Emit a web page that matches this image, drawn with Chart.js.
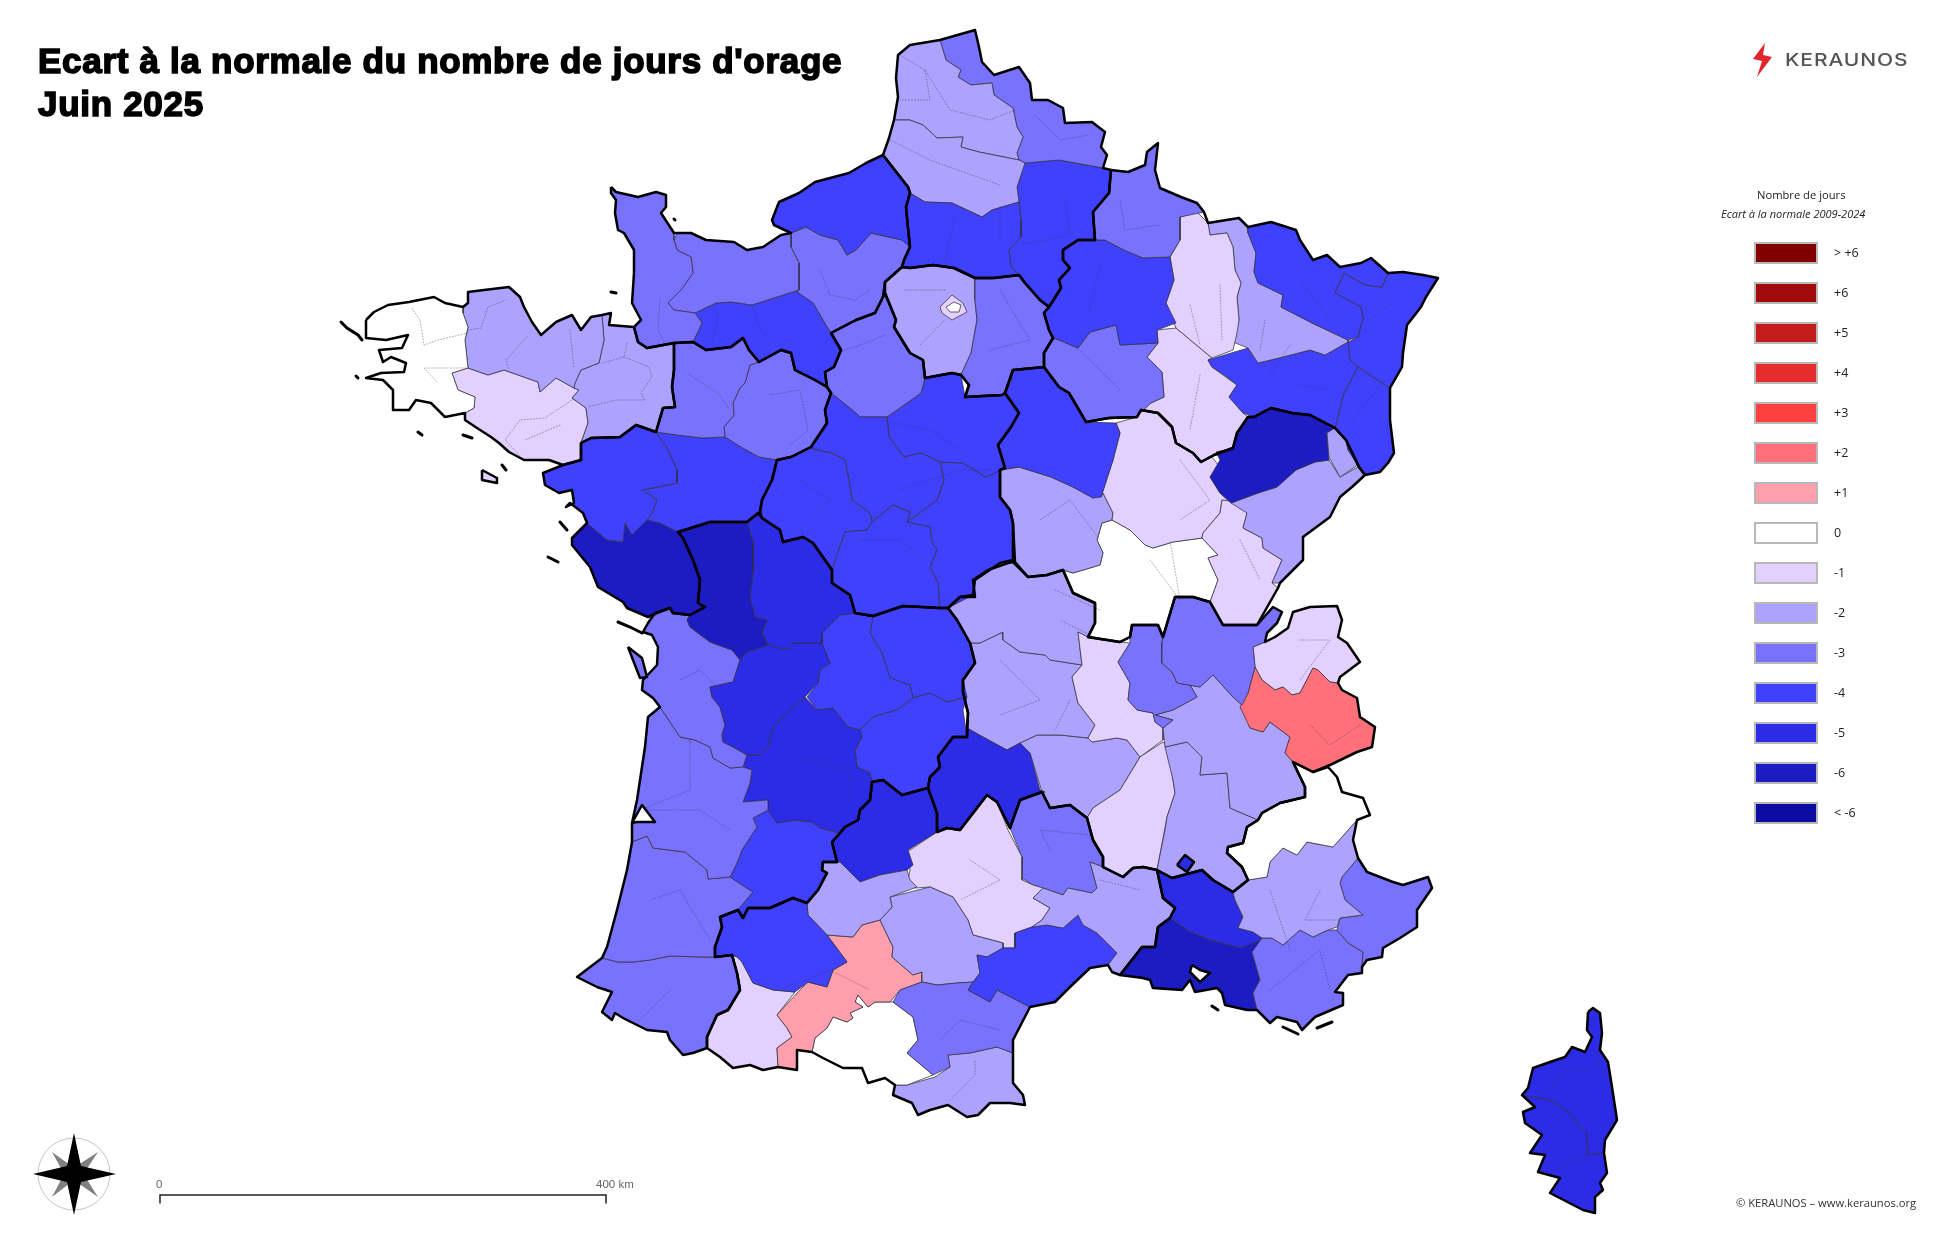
<!DOCTYPE html><html lang="fr">
<head>
<meta charset="UTF-8" />
<title>Ecart à la normale du nombre de jours d'orage</title>
<script src="https://cdn.jsdelivr.net/npm/chart.js"></script>
<style>
  html, body { margin: 0; padding: 0; background: #fff; }
  #page { position: relative; width: 1954px; height: 1249px; overflow: hidden; font-family: 'Open Sans', sans-serif; }
  canvas { position: absolute; left: 0; top: 0; }
  #page div { position: absolute; white-space: nowrap; }
  .title { left: 38px; font: bold 35px 'Liberation Sans', sans-serif; color: #000; -webkit-text-stroke: 1.6px #000; letter-spacing: 0.7px; }
  .swatch { left: 1754px; width: 60px; height: 18px; border: 2px solid #b8b8b8; }
  .leglab { left: 1834px; font-size: 12.5px; color: #222; }
  .grey { font: 11.5px 'Liberation Sans', sans-serif; color: #666; }
</style>
</head>
<body>
<div id="page">
  <canvas id="map" width="1954" height="1249"></canvas>
  <div class="title" style="top:41px">Ecart à la normale du nombre de jours d'orage</div>
  <div class="title" style="top:84px">Juin 2025</div>
  <div style="left:1785px;top:49px;font:500 17.5px Inter,sans-serif;color:#555;letter-spacing:0.75px;transform:scaleX(1.2);transform-origin:left">KERAUNOS</div>
  <div style="left:1757px;top:187px;font-size:11.2px;color:#222">Nombre de jours</div>
  <div style="left:1721px;top:206px;font-size:11px;font-style:italic;color:#222">Ecart à la normale 2009-2024</div>
  <div class="grey" style="left:156px;top:1178px">0</div>
  <div class="grey" style="left:596px;top:1178px">400 km</div>
  <div style="left:1736px;top:1195px;font-size:11.2px;color:#333">© KERAUNOS – www.keraunos.org</div>
</div>
<script>
// legend classes
const legendLabels = ['> +6','+6','+5','+4','+3','+2','+1','0','-1','-2','-3','-4','-5','-6','< -6'];
const legendColors = ['#800000','#a00c0c','#c21c1c','#e62c2c','#ff4040','#ff707a','#ff9eac','#ffffff','#e2d0ff','#aea2ff','#7872ff','#4040ff','#2c2ce6','#1c1cc2','#0c0ca0'];

// department outlines, x y x y ... in picture units
const finistere = [366,320,374,312,388,305,409,302,434,297,445,303,463,307,463,313,468,327,465,340,468,368,452,373,458,390,475,397,474,408,465,413,445,417,431,403,416,400,409,410,393,410,393,390,383,380,366,378,381,373,404,372,406,363,391,357,383,362,379,350,402,348,408,335,386,340,366,338];
const cotesArmor = [463,307,468,303,468,292,484,290,509,287,520,297,524,307,532,322,541,335,556,322,572,315,581,330,591,317,602,315,604,340,599,363,581,370,575,383,574,388,556,378,540,392,538,382,504,370,488,375,468,368,465,340,468,327,463,313];
const illeVilaine = [602,315,611,313,609,325,634,327,638,342,647,348,674,343,674,370,672,387,675,407,663,408,656,432,636,425,620,437,591,438,581,443,588,423,586,408,572,398,579,390,574,388,575,383,581,370,599,363,604,340];
const morbihan = [452,373,468,368,488,375,504,370,538,382,540,392,556,378,574,388,579,390,572,398,586,408,588,423,581,443,581,460,563,465,549,460,524,460,509,452,499,443,491,437,477,428,465,420,465,413,474,408,475,397,458,390];
const loireAtl = [581,443,591,438,620,437,636,425,656,432,668,450,677,470,677,483,643,490,657,500,652,513,647,520,632,535,625,523,623,542,607,540,587,523,583,513,570,503,566,507,574,503,572,490,559,493,545,485,543,473,563,465,581,460];
const manche = [611,187,616,192,638,197,656,192,666,195,666,207,661,213,674,233,674,240,677,250,691,257,693,273,681,290,668,303,674,310,695,313,702,323,693,342,674,343,647,348,638,342,634,327,641,320,632,303,634,273,634,250,624,233,618,230,615,213,616,200,611,193];
const calvados = [674,240,677,233,691,233,706,240,734,242,747,250,763,247,781,235,791,233,791,247,799,263,799,290,752,305,731,302,716,303,695,313,674,310,668,303,681,290,693,273,691,257,677,250];
const orne = [695,313,716,303,731,302,752,305,799,290,797,292,813,303,827,327,831,333,841,350,834,367,825,372,827,387,815,380,795,370,791,353,781,350,759,362,749,350,743,338,731,347,706,350,693,342,702,323];
const mayenne = [674,343,693,342,706,350,731,347,743,338,749,350,759,362,750,365,745,383,740,388,733,403,734,415,724,427,725,437,702,438,677,435,656,432,663,408,675,407,672,387,674,370];
const sarthe = [759,362,781,350,791,353,795,370,815,380,827,387,831,393,825,410,827,423,811,447,791,457,777,460,759,457,741,447,725,437,724,427,734,415,733,403,740,388,745,383,750,365];
const maineLoire = [656,432,677,435,702,438,725,437,741,447,759,457,777,460,772,480,762,500,760,512,747,522,710,522,678,532,660,523,647,520,652,513,657,500,643,490,677,483,677,470,668,450];
const vendee = [587,523,572,538,572,545,590,567,598,587,623,602,627,608,648,617,657,613,670,608,673,613,690,615,705,607,698,603,700,580,693,560,683,538,678,532,660,523,647,520,632,535,625,523,623,542,607,540];
const deuxSevres = [678,532,710,522,747,522,748,525,753,543,753,573,750,597,755,617,767,620,762,633,768,645,747,652,740,660,732,650,710,642,690,627,687,620,690,615,705,607,698,603,700,580,693,560,683,538];
const vienne = [747,522,758,513,762,518,780,530,783,542,803,537,813,543,832,570,832,583,850,595,855,613,840,615,822,633,822,643,793,643,787,650,768,645,762,633,767,620,755,617,750,597,753,573,753,543,748,525];
const charente = [768,645,787,650,793,643,822,643,830,663,820,670,818,683,805,697,793,707,773,727,768,747,758,755,747,755,733,747,723,742,722,735,725,725,720,707,712,697,710,687,733,682,740,660,747,652];
const charenteMar = [740,660,733,682,710,687,712,697,720,707,725,725,722,735,723,742,733,747,747,755,743,767,730,768,713,758,710,747,695,740,680,737,660,707,653,698,642,690,643,680,657,665,658,647,652,635,643,632,648,623,655,613,670,608,673,613,690,615,687,620,690,627,710,642,732,650];
const gironde = [660,707,648,717,645,747,637,800,632,823,632,842,647,836,653,848,685,852,707,870,708,879,730,877,737,863,742,850,753,833,757,827,753,818,768,810,768,800,743,802,750,783,752,770,743,767,730,768,713,758,710,747,695,740,680,737];
const dordogne = [747,755,758,755,768,747,773,727,793,707,805,697,817,710,833,708,848,727,860,730,862,737,855,750,857,767,870,773,872,782,870,800,860,810,858,820,845,827,840,833,820,828,812,822,795,820,777,823,768,810,768,800,743,802,750,783,752,770,743,767];
const lotGaronne = [757,827,753,818,768,810,777,823,795,820,812,822,820,828,840,833,832,842,837,862,823,862,822,870,827,873,818,890,807,903,793,898,770,908,748,908,743,918,738,910,753,892,730,877,737,863,742,850,753,833];
const landes = [632,842,647,836,653,848,685,852,707,870,708,879,730,877,753,892,738,910,720,917,722,927,715,947,715,957,700,957,670,956,650,960,633,962,618,962,602,958,607,947,617,910,627,870];
const pyrAtl = [602,958,618,962,633,962,650,960,670,956,700,957,715,957,732,955,737,973,740,990,728,1010,717,1015,707,1037,707,1048,693,1053,683,1055,670,1040,667,1032,647,1030,623,1018,615,1013,612,1020,602,1012,612,992,597,987,577,977];
const gers = [738,910,720,917,722,927,715,947,715,957,732,955,737,957,742,962,753,983,773,990,795,992,808,982,827,987,833,970,847,962,827,935,808,915,807,903,793,898,770,908,748,908,743,918];
const tarnGaronne = [807,903,818,890,827,873,822,870,823,862,840,862,860,882,880,875,907,870,910,880,917,887,890,897,892,907,880,920,862,925,853,937,827,935,808,915];
const lot = [840,833,845,827,858,820,860,810,870,800,872,782,883,780,902,795,928,788,937,813,937,832,908,850,913,865,907,870,880,875,860,882,840,862,837,862,832,842];
const correze = [873,717,897,710,913,698,930,693,947,702,967,697,963,710,967,737,953,737,938,757,940,767,930,777,928,788,902,795,883,780,872,782,870,773,857,767,855,750,862,737,860,730];
const hauteVienne = [855,613,873,617,870,633,882,653,890,678,910,685,913,698,897,710,873,717,860,730,848,727,833,708,817,710,807,697,818,683,820,670,830,663,822,643,822,633,840,615];
const creuse = [873,617,903,606,940,608,948,608,957,620,970,643,975,663,963,680,967,697,947,702,930,693,913,698,910,685,890,678,882,653,870,633];
const indre = [832,570,845,532,867,530,872,522,893,505,910,512,907,522,930,527,932,542,937,550,930,567,938,583,940,608,903,606,873,616,855,613,850,595,832,583];
const indreLoire = [777,460,791,457,809,448,831,453,845,460,849,480,852,500,870,513,872,522,867,530,845,532,832,570,813,543,803,537,783,542,780,530,762,518,760,512,762,500,772,480];
const loirCher = [831,393,856,413,860,417,887,417,889,437,904,457,921,453,940,462,944,480,937,500,907,522,910,512,893,505,872,522,870,513,852,500,849,480,845,460,831,453,809,448,811,447,827,423,825,410];
const eureLoir = [831,333,856,320,875,313,883,297,885,293,896,320,894,327,910,353,923,360,925,378,921,393,887,417,860,417,856,413,831,393,827,387,825,372,834,367,841,350];
const loiret = [925,378,952,373,961,375,965,397,1002,395,1005,393,1019,413,1011,427,998,445,1005,468,986,477,963,463,940,462,921,453,904,457,889,437,887,417,921,393];
const seineMar = [772,220,779,202,799,193,815,182,849,173,866,163,883,155,908,187,910,193,906,207,908,228,910,247,902,240,871,233,856,250,847,255,838,240,820,235,806,227,791,233,774,225];
const eure = [791,233,806,227,820,235,838,240,847,255,856,250,871,233,902,240,910,247,904,260,902,267,885,282,883,297,875,313,856,320,831,333,827,327,813,303,797,292,799,290,799,263,791,247];
const oise = [910,193,925,202,952,203,982,217,992,210,1019,202,1021,220,1021,237,1009,250,1011,267,1019,275,994,278,975,278,954,268,933,265,910,268,902,267,904,260,910,247,908,228,906,207];
const somme = [883,155,889,138,894,120,910,120,923,125,937,138,963,137,961,147,979,152,994,155,1019,160,1025,163,1017,187,1019,202,992,210,982,217,952,203,925,202,910,193,908,187];
const pasCalais = [894,120,898,97,896,78,898,55,910,45,940,40,946,60,961,70,958,77,971,85,992,83,994,95,1013,108,1017,127,1023,137,1017,153,1019,160,994,155,979,152,961,147,963,137,937,138,923,125,910,120];
const nord = [940,40,975,30,979,47,982,62,994,75,1019,67,1030,83,1032,100,1048,100,1063,108,1065,123,1092,122,1105,132,1101,147,1107,155,1103,168,1059,160,1025,163,1019,160,1017,153,1023,137,1017,127,1013,108,994,95,992,83,971,85,958,77,961,70,946,60];
const aisne = [1025,163,1059,160,1103,168,1111,170,1109,193,1093,212,1095,240,1078,240,1063,250,1063,260,1070,268,1059,280,1061,288,1049,307,1040,300,1025,283,1019,275,1011,267,1009,250,1021,237,1021,220,1019,202,1017,187];
const ardennes = [1111,170,1128,172,1145,165,1147,152,1158,143,1155,170,1160,188,1181,197,1197,203,1204,212,1180,217,1180,240,1170,257,1143,258,1124,250,1105,240,1095,240,1093,212,1109,193];
const marne = [1095,240,1105,240,1124,250,1143,258,1170,257,1174,280,1166,303,1176,323,1157,330,1158,343,1120,345,1116,325,1090,332,1078,348,1059,340,1053,338,1049,330,1044,313,1049,307,1061,288,1059,280,1070,268,1063,260,1063,250,1078,240];
const aube = [1059,340,1078,348,1090,332,1116,325,1120,345,1158,343,1147,357,1162,372,1164,397,1151,403,1136,417,1109,418,1086,422,1082,415,1069,393,1059,387,1044,367,1044,353,1053,338];
const seineMarne = [975,278,994,278,1019,275,1025,283,1040,300,1049,307,1044,313,1049,330,1053,338,1044,353,1044,367,1013,370,1011,383,1005,393,1002,395,965,397,969,385,961,375,971,353,977,320,975,300];
const ileFrance = [885,282,902,267,910,268,933,265,954,268,975,278,975,300,977,320,971,353,961,375,952,373,925,378,923,360,910,353,894,327,896,320,885,293];
const petiteCouronne = [940,307,952,295,963,303,967,312,952,320,942,313];
const paris = [946,307,954,302,961,305,959,312,950,312];
const meuse = [1180,217,1197,212,1208,223,1210,235,1227,233,1233,247,1235,270,1241,283,1237,297,1239,320,1237,333,1233,350,1212,358,1176,328,1166,303,1174,280,1170,257,1180,240];
const moselle = [1248,227,1271,222,1296,230,1300,240,1313,260,1327,255,1340,267,1361,263,1371,258,1388,273,1382,287,1365,285,1344,273,1335,293,1361,307,1363,318,1358,337,1348,340,1312,323,1281,307,1283,295,1258,283,1254,272,1256,253,1248,233];
const meurthe = [1208,223,1239,218,1248,227,1248,233,1256,253,1254,272,1258,283,1283,295,1281,307,1312,323,1348,340,1348,342,1325,355,1310,350,1283,357,1258,363,1248,348,1233,342,1239,320,1237,297,1241,283,1235,270,1233,247,1227,233,1210,235];
const vosges = [1208,360,1248,348,1258,363,1283,357,1310,350,1325,355,1348,342,1350,360,1358,367,1344,393,1335,428,1310,415,1292,413,1271,408,1254,417,1243,413,1229,397,1237,385,1224,375,1212,367];
const basRhin = [1388,273,1403,272,1423,275,1438,278,1426,297,1421,307,1407,325,1403,353,1402,367,1390,388,1358,367,1350,360,1348,342,1358,337,1363,318,1361,307,1335,293,1344,273,1365,285,1382,287];
const hautRhin = [1358,367,1390,388,1390,420,1394,453,1388,463,1380,472,1365,475,1359,467,1348,450,1346,440,1335,428,1344,393];
const belfort = [1327,433,1335,428,1346,440,1348,450,1358,465,1340,477,1329,457];
const hauteSaone = [1248,417,1254,417,1271,408,1292,413,1310,415,1335,428,1327,433,1329,460,1315,462,1296,470,1277,487,1258,493,1231,503,1220,493,1210,477,1220,460,1216,452,1233,448,1237,433];
const doubs = [1329,460,1340,477,1358,467,1365,475,1352,487,1340,497,1330,517,1303,537,1303,560,1280,583,1272,583,1282,560,1263,548,1262,538,1243,528,1247,513,1231,503,1258,493,1277,487,1296,470,1315,462];
const jura = [1238,502,1222,500,1220,513,1203,533,1202,538,1218,555,1208,558,1218,580,1210,602,1223,625,1245,625,1257,625,1278,588,1272,583,1282,560,1263,548,1262,538,1243,528,1247,513];
const yonne = [1005,393,1013,370,1044,367,1059,387,1069,393,1082,415,1086,422,1116,423,1120,433,1113,460,1101,497,1093,498,1073,487,1051,477,1019,467,1000,470,1005,468,998,445,1011,427,1019,413];
const coteOr = [1116,423,1137,417,1141,410,1158,413,1172,427,1176,443,1193,453,1201,462,1212,457,1220,467,1210,477,1220,493,1231,503,1222,500,1220,513,1203,533,1202,538,1173,542,1153,548,1145,545,1130,530,1112,520,1113,513,1103,493,1101,497,1113,460,1120,433];
const hauteMarne = [1176,328,1212,358,1208,360,1212,367,1237,385,1229,397,1243,413,1248,417,1237,433,1233,448,1214,455,1201,462,1193,453,1176,443,1172,427,1158,413,1141,410,1151,403,1164,397,1162,372,1147,357,1158,343,1157,330];
const nievre = [1000,470,1019,467,1051,477,1073,487,1093,498,1103,493,1113,513,1112,520,1102,523,1097,540,1103,553,1100,565,1073,573,1063,570,1047,575,1028,577,1015,562,1013,523,1010,510,1000,497];
const cher = [944,480,940,462,963,463,986,477,1000,470,1000,497,1010,510,1013,523,1013,560,1000,563,975,580,973,595,948,608,940,608,938,583,930,567,937,550,932,542,930,527,907,522,937,500];
const saoneLoire = [1063,570,1073,593,1095,603,1095,623,1088,637,1120,642,1130,637,1132,625,1158,625,1163,637,1175,597,1193,597,1210,602,1218,580,1208,558,1218,555,1202,538,1173,542,1153,548,1145,545,1130,530,1112,520,1102,523,1097,540,1103,553,1100,565,1073,573];
const ain = [1175,597,1193,597,1210,602,1223,625,1245,625,1257,625,1273,607,1282,612,1277,623,1267,633,1265,642,1253,647,1255,667,1248,693,1242,705,1233,697,1213,675,1200,687,1177,683,1172,672,1162,663,1162,643,1163,637];
const rhone = [1132,625,1158,625,1163,637,1162,643,1162,663,1172,672,1177,683,1190,685,1197,697,1173,710,1155,715,1173,720,1163,728,1155,722,1153,713,1137,710,1128,700,1130,683,1118,662,1130,643,1130,637];
const savoie = [1255,667,1262,680,1275,690,1283,687,1292,695,1300,693,1313,668,1318,670,1330,682,1338,683,1342,690,1357,698,1360,717,1375,727,1372,747,1357,752,1330,765,1313,772,1293,762,1285,753,1290,737,1270,722,1263,732,1250,728,1240,707,1248,693];
const hauteSavoie = [1253,647,1265,642,1275,637,1288,628,1293,612,1310,607,1337,606,1342,620,1338,637,1347,643,1360,662,1340,677,1338,683,1330,682,1318,670,1313,668,1300,693,1292,695,1283,687,1275,690,1262,680,1255,667];
const isere = [1213,675,1233,697,1242,705,1250,728,1263,732,1270,722,1290,737,1285,753,1293,762,1305,787,1305,797,1280,803,1262,813,1258,820,1230,808,1227,773,1200,775,1202,757,1187,742,1165,747,1163,728,1173,720,1155,715,1173,710,1197,697,1190,685,1200,687];
const drome = [1165,747,1187,742,1202,757,1200,775,1227,773,1230,808,1258,820,1247,827,1243,843,1228,847,1227,853,1242,867,1248,880,1233,892,1213,880,1202,870,1172,878,1157,870,1165,830,1167,817,1175,793,1173,780];
const hautesAlpes = [1293,762,1313,772,1328,767,1337,777,1342,792,1363,798,1370,815,1357,820,1333,847,1307,842,1297,855,1283,848,1270,862,1267,877,1248,880,1242,867,1227,853,1228,847,1243,843,1247,827,1258,820,1262,813,1280,803,1305,797,1305,787];
const alpesHP = [1233,892,1248,880,1267,877,1270,862,1283,848,1297,855,1307,842,1333,847,1357,820,1353,840,1358,858,1342,877,1340,883,1345,900,1363,915,1340,918,1337,927,1328,930,1313,937,1300,930,1283,945,1272,938,1262,938,1253,932,1238,928,1243,917,1235,900];
const alpesMar = [1358,858,1367,872,1393,882,1403,885,1428,877,1432,888,1417,910,1417,927,1400,938,1383,948,1382,957,1367,960,1362,967,1363,952,1348,943,1337,930,1340,918,1363,915,1345,900,1340,883,1342,877];
const varDep = [1262,938,1252,952,1260,980,1253,993,1257,1010,1270,1023,1277,1017,1297,1022,1302,1030,1315,1017,1343,1005,1343,993,1335,992,1348,975,1362,973,1362,967,1363,952,1348,943,1337,930,1328,930,1313,937,1300,930,1283,945,1272,938];
const bouchesRhone = [1120,975,1142,947,1155,947,1158,927,1170,918,1190,932,1210,940,1240,948,1262,940,1252,952,1260,980,1253,993,1257,1010,1247,1010,1225,1005,1222,993,1217,988,1195,992,1190,980,1182,990,1153,988,1150,980,1143,978];
const vaucluse = [1157,870,1172,878,1202,870,1213,880,1233,892,1235,900,1243,917,1238,928,1253,932,1262,938,1262,940,1240,948,1210,940,1190,932,1170,918,1175,908,1163,898];
const gard = [1157,870,1163,898,1175,908,1170,918,1158,927,1155,947,1142,947,1120,975,1112,972,1108,965,1117,953,1097,933,1083,925,1078,915,1063,928,1047,925,1032,927,1042,920,1050,908,1033,898,1043,888,1063,895,1068,888,1092,893,1097,888,1090,862,1103,867,1123,877,1133,868,1143,867];
const herault = [1032,927,1015,933,1015,948,1003,948,987,957,977,955,980,973,973,982,968,990,990,1002,997,990,1030,1007,1055,1002,1070,987,1090,968,1108,965,1117,953,1097,933,1083,925,1078,915,1063,928,1047,925];
const aude = [893,1002,913,1017,918,1040,907,1053,933,1075,950,1067,948,1055,970,1053,997,1047,1013,1053,1013,1040,1030,1007,997,990,990,1002,968,990,973,982,957,983,937,985,922,982,900,990];
const tarn = [880,920,892,907,890,897,930,887,953,897,968,920,973,935,1003,943,1003,948,987,957,977,955,980,973,973,982,957,983,937,985,922,982,922,972,913,975,892,957,893,947];
const hauteGaronne = [827,935,853,937,862,925,880,920,893,947,892,957,913,975,922,972,922,982,900,990,890,1002,875,1002,868,1007,858,995,855,1002,863,1007,850,1013,853,1018,847,1022,833,1017,827,1028,815,1038,812,1052,797,1050,797,1070,778,1067,777,1048,792,1037,787,1028,777,1015,798,992,808,982,827,987,833,970,847,962];
const ariege = [812,1052,815,1038,827,1028,833,1017,847,1022,853,1018,850,1013,863,1007,855,1002,858,995,868,1007,875,1002,890,1002,893,1002,913,1017,918,1040,907,1053,933,1075,907,1085,895,1085,885,1078,868,1083,862,1068,843,1068,823,1058];
const pyrOr = [893,1095,895,1085,907,1085,935,1077,950,1067,948,1055,970,1053,997,1047,1013,1053,1013,1083,1023,1095,1025,1105,1010,1103,990,1103,978,1115,967,1117,948,1105,930,1110,918,1115,912,1103];
const hautesPyr = [732,955,737,957,742,962,753,983,773,990,795,992,777,1015,787,1028,792,1037,777,1048,778,1067,763,1070,750,1065,733,1068,720,1057,707,1048,707,1037,717,1015,728,1010,740,990,737,973];
const aveyron = [907,852,937,832,947,828,960,830,987,795,997,802,1008,830,1022,857,1022,880,1033,885,1043,888,1033,898,1050,908,1042,920,1032,927,1015,933,1015,948,1003,948,1003,943,973,935,968,920,953,897,930,887,915,888,908,880,910,870];
const cantal = [967,737,967,728,983,737,1007,750,1020,743,1030,753,1040,790,1045,792,1020,800,1010,828,997,802,987,795,960,830,947,828,937,832,937,813,928,788,930,777,940,767,938,757,953,737];
const lozere = [1010,828,1020,800,1042,792,1050,808,1070,805,1087,818,1093,840,1103,857,1103,867,1090,862,1097,888,1092,893,1068,888,1063,895,1043,888,1033,885,1020,877,1022,863,1022,857];
const ardeche = [1087,818,1093,808,1120,790,1140,757,1163,742,1168,747,1173,780,1175,793,1167,817,1157,870,1143,867,1133,868,1123,877,1103,867,1103,857,1093,840];
const loire = [1078,632,1088,637,1120,642,1130,643,1118,662,1130,683,1128,700,1137,710,1153,713,1155,722,1163,728,1163,740,1140,757,1127,740,1117,738,1092,742,1088,738,1095,725,1078,703,1072,677,1082,665];
const allier = [948,608,960,597,975,597,973,580,988,570,1008,563,1013,562,1028,577,1047,575,1063,570,1073,593,1095,603,1095,623,1087,637,1078,632,1082,665,1050,660,1045,655,1020,652,1003,640,1003,632,980,643,970,643,957,620];
const puyDome = [970,643,980,643,1003,632,1003,640,1020,652,1045,655,1050,660,1082,665,1072,677,1078,703,1095,725,1088,738,1060,735,1037,735,1020,743,1007,750,983,737,967,728,968,713,963,692,963,680,975,663];
const hauteLoire = [1020,743,1037,735,1060,735,1088,738,1092,742,1117,738,1127,740,1140,757,1120,790,1093,808,1087,818,1070,805,1050,808,1042,792,1030,753];
const hauteCorse = [1588,1012,1593,1008,1600,1013,1602,1033,1600,1050,1608,1062,1612,1087,1617,1120,1605,1140,1604,1153,1588,1155,1587,1133,1578,1125,1570,1113,1550,1100,1522,1095,1528,1088,1533,1068,1550,1062,1565,1057,1572,1047,1585,1052,1592,1037,1587,1030];
const corseSud = [1522,1095,1550,1100,1570,1113,1578,1125,1587,1133,1588,1155,1604,1153,1607,1173,1600,1183,1603,1190,1595,1197,1595,1213,1583,1210,1550,1193,1560,1178,1538,1172,1545,1155,1530,1153,1542,1135,1525,1123,1523,1112,1535,1107];
const valreas = [1177,865,1185,855,1194,862,1187,872];
const oleron = [628,647,642,658,647,677,640,678,633,660];
const belleIle = [482,470,497,478,497,483,482,480];

const depOutlines = [finistere,cotesArmor,illeVilaine,morbihan,loireAtl,manche,calvados,orne,mayenne,sarthe,maineLoire,vendee,deuxSevres,vienne,charente,charenteMar,gironde,dordogne,lotGaronne,landes,pyrAtl,gers,tarnGaronne,lot,correze,hauteVienne,creuse,indre,indreLoire,loirCher,eureLoir,loiret,seineMar,eure,oise,somme,pasCalais,nord,aisne,ardennes,marne,aube,seineMarne,ileFrance,meuse,moselle,meurthe,vosges,basRhin,hautRhin,belfort,hauteSaone,doubs,jura,yonne,coteOr,hauteMarne,nievre,cher,saoneLoire,ain,rhone,savoie,hauteSavoie,isere,drome,hautesAlpes,alpesHP,alpesMar,varDep,bouchesRhone,vaucluse,gard,herault,aude,tarn,hauteGaronne,ariege,pyrOr,hautesPyr,aveyron,cantal,lozere,ardeche,loire,allier,puyDome,hauteLoire,hauteCorse,corseSud,valreas,oleron,belleIle,petiteCouronne,paris];
const depValues = [0,-2,-2,-1,-4,-3,-3,-4,-3,-3,-4,-6,-6,-5,-5,-3,-3,-5,-4,-3,-3,-4,-2,-5,-4,-4,-4,-4,-4,-4,-3,-4,-4,-3,-4,-2,-2,-3,-4,-3,-4,-3,-3,-2,-1,-4,-2,-4,-4,-4,-2,-6,-2,-1,-4,-1,-1,-2,-4,0,-3,-3,2,-1,-2,-2,0,-2,-3,-3,-6,-5,-2,-4,-3,-2,1,0,-2,-1,-1,-5,-3,-1,-1,-2,-2,-2,-5,-5,-5,-3,-1,-1,0];

// region borders, thick black
const regBretagne = [366,320,374,312,388,305,409,302,434,297,445,303,463,307,468,303,468,292,484,290,509,287,520,297,524,307,532,322,541,335,556,322,572,315,581,330,591,317,602,315,611,313,609,325,634,327,638,342,647,348,674,343,674,370,672,387,675,407,663,408,656,432,636,425,620,437,591,438,581,443,581,460,563,465,549,460,524,460,509,452,499,443,491,437,477,428,465,420,465,413,445,417,431,403,416,400,409,410,393,410,393,390,383,380,366,378,381,373,404,372,406,363,391,357,383,362,379,350,402,348,408,335,386,340,366,338];
const regNormandie = [611,187,616,192,638,197,656,192,666,195,666,207,661,213,674,233,677,233,691,233,706,240,734,242,747,250,763,247,781,235,791,233,774,225,772,220,779,202,799,193,815,182,849,173,866,163,883,155,908,187,910,193,906,207,908,228,910,247,904,260,902,267,885,282,883,297,875,313,856,320,831,333,841,350,834,367,825,372,827,387,815,380,795,370,791,353,781,350,759,362,749,350,743,338,731,347,706,350,693,342,674,343,647,348,638,342,634,327,641,320,632,303,634,273,634,250,624,233,618,230,615,213,616,200,611,193];
const regHautsFrance = [883,155,889,138,894,120,898,97,896,78,898,55,910,45,940,40,975,30,979,47,982,62,994,75,1019,67,1030,83,1032,100,1048,100,1063,108,1065,123,1092,122,1105,132,1101,147,1107,155,1103,168,1111,170,1109,193,1093,212,1095,240,1078,240,1063,250,1063,260,1070,268,1059,280,1061,288,1049,307,1040,300,1025,283,1019,275,994,278,975,278,954,268,933,265,910,268,902,267,904,260,910,247,908,228,906,207,910,193,908,187];
const regGrandEst = [1111,170,1128,172,1145,165,1147,152,1158,143,1155,170,1160,188,1181,197,1197,203,1204,212,1208,223,1239,218,1248,227,1271,222,1296,230,1300,240,1313,260,1327,255,1340,267,1361,263,1371,258,1388,273,1403,272,1423,275,1438,278,1426,297,1421,307,1407,325,1403,353,1402,367,1390,388,1390,420,1394,453,1388,463,1380,472,1365,475,1359,467,1346,440,1335,428,1310,415,1292,413,1271,408,1254,417,1248,417,1237,433,1233,448,1214,455,1201,462,1193,453,1176,443,1172,427,1158,413,1141,410,1137,417,1109,418,1086,422,1082,415,1069,393,1059,387,1044,367,1044,353,1053,338,1049,330,1044,313,1049,307,1061,288,1059,280,1070,268,1063,260,1063,250,1078,240,1095,240,1093,212,1109,193];
const regBourgogne = [1005,393,1013,370,1044,367,1059,387,1069,393,1082,415,1086,422,1109,418,1137,417,1141,410,1158,413,1172,427,1176,443,1193,453,1201,462,1214,455,1233,448,1237,433,1248,417,1254,417,1271,408,1292,413,1310,415,1335,428,1346,440,1359,467,1365,475,1352,487,1340,497,1330,517,1303,537,1303,560,1280,583,1278,588,1257,625,1245,625,1223,625,1210,602,1193,597,1175,597,1163,637,1158,625,1132,625,1130,637,1120,642,1088,637,1095,623,1095,603,1073,593,1063,570,1047,575,1028,577,1015,562,1013,523,1010,510,1000,497,1000,470,1005,468,998,445,1011,427,1019,413];
const regCentre = [831,333,856,320,875,313,883,297,885,293,896,320,894,327,910,353,923,360,925,378,952,373,961,375,969,385,965,397,1002,395,1005,393,1019,413,1011,427,998,445,1005,468,1000,470,1000,497,1010,510,1013,523,1013,560,1000,563,975,580,973,595,960,597,948,608,940,608,903,606,873,616,855,613,850,595,832,583,832,570,813,543,803,537,783,542,780,530,762,518,760,512,762,500,772,480,777,460,791,457,811,447,827,423,825,410,831,393,827,387,825,372,834,367,841,350];
const regLoire = [581,443,591,438,620,437,636,425,656,432,663,408,675,407,672,387,674,370,674,343,693,342,706,350,731,347,743,338,749,350,759,362,781,350,791,353,795,370,815,380,827,387,831,393,825,410,827,423,811,447,791,457,777,460,772,480,762,500,760,512,747,522,710,522,678,532,683,538,693,560,700,580,698,603,705,607,690,615,673,613,670,608,657,613,648,617,627,608,623,602,598,587,590,567,572,545,572,538,587,523,583,513,570,503,566,507,574,503,572,490,559,493,545,485,543,473,563,465,581,460];
const regIdf = [885,282,902,267,910,268,933,265,954,268,975,278,994,278,1019,275,1025,283,1040,300,1049,307,1044,313,1049,330,1053,338,1044,353,1044,367,1013,370,1005,393,1002,395,965,397,969,385,961,375,952,373,925,378,923,360,910,353,894,327,896,320,885,293];
const regAquitaine = [655,613,670,608,673,613,690,615,705,607,698,603,700,580,693,560,683,538,678,532,710,522,747,522,758,513,762,518,780,530,783,542,803,537,813,543,832,570,832,583,850,595,855,613,873,616,903,606,940,608,948,608,957,620,970,643,975,663,963,680,963,692,968,713,967,728,967,737,953,737,938,757,940,767,930,777,928,788,902,795,883,780,872,782,870,800,860,810,858,820,845,827,840,833,832,842,837,862,823,862,822,870,827,873,818,890,807,903,793,898,770,908,748,908,743,918,738,910,720,917,722,927,715,947,715,957,732,955,737,973,740,990,728,1010,717,1015,707,1037,707,1048,693,1053,683,1055,670,1040,667,1032,647,1030,623,1018,615,1013,612,1020,602,1012,612,992,597,987,577,977,602,958,607,947,617,910,627,870,632,842,632,823,637,800,645,747,648,717,660,707,653,698,642,690,643,680,657,665,658,647,652,635,643,632,648,623];
const regAuvergne = [957,620,948,608,960,597,975,597,973,580,988,570,1008,563,1013,562,1028,577,1047,575,1063,570,1073,593,1095,603,1095,623,1088,637,1120,642,1130,637,1132,625,1158,625,1163,637,1175,597,1193,597,1210,602,1223,625,1245,625,1257,625,1273,607,1282,612,1277,623,1267,633,1265,642,1275,637,1288,628,1293,612,1310,607,1337,606,1342,620,1338,637,1347,643,1360,662,1340,677,1338,683,1342,690,1357,698,1360,717,1375,727,1372,747,1357,752,1330,765,1313,772,1293,762,1305,787,1305,797,1280,803,1262,813,1258,820,1247,827,1243,843,1228,847,1227,853,1242,867,1248,880,1233,892,1213,880,1202,870,1172,878,1157,870,1143,867,1133,868,1123,877,1103,867,1103,857,1093,840,1087,818,1070,805,1050,808,1042,792,1020,800,1010,828,997,802,987,795,960,830,947,828,937,832,937,813,928,788,930,777,940,767,938,757,953,737,967,737,968,713,963,692,963,680,975,663,970,643];
const regOccitanie = [832,842,840,833,845,827,858,820,860,810,870,800,872,782,883,780,902,795,928,788,937,813,937,832,947,828,960,830,987,795,997,802,1010,828,1020,800,1042,792,1050,808,1070,805,1087,818,1093,840,1103,857,1103,867,1123,877,1133,868,1143,867,1157,870,1163,898,1175,908,1170,918,1158,927,1155,947,1142,947,1120,975,1112,972,1108,965,1090,968,1070,987,1055,1002,1030,1007,1013,1040,1013,1083,1023,1095,1025,1105,1010,1103,990,1103,978,1115,967,1117,948,1105,930,1110,918,1115,912,1103,893,1095,895,1085,885,1078,868,1083,862,1068,843,1068,823,1058,812,1052,797,1050,797,1070,778,1067,763,1070,750,1065,733,1068,720,1057,707,1048,707,1037,717,1015,728,1010,740,990,737,973,732,955,715,957,715,947,722,927,720,917,738,910,743,918,748,908,770,908,793,898,807,903,818,890,827,873,822,870,823,862,837,862];
const regPaca = [1233,892,1248,880,1242,867,1227,853,1228,847,1243,843,1247,827,1258,820,1262,813,1280,803,1305,797,1305,787,1293,762,1313,772,1328,767,1337,777,1342,792,1363,798,1370,815,1357,820,1353,840,1358,858,1367,872,1393,882,1403,885,1428,877,1432,888,1417,910,1417,927,1400,938,1383,948,1382,957,1367,960,1362,967,1362,973,1348,975,1335,992,1343,993,1343,1005,1315,1017,1302,1030,1297,1022,1277,1017,1270,1023,1257,1010,1247,1010,1225,1005,1222,993,1217,988,1195,992,1190,980,1182,990,1153,988,1150,980,1143,978,1120,975,1142,947,1155,947,1158,927,1170,918,1175,908,1163,898,1157,870,1172,878,1202,870,1213,880];
const regCorse = [1588,1012,1593,1008,1600,1013,1602,1033,1600,1050,1608,1062,1612,1087,1617,1120,1605,1140,1604,1153,1607,1173,1600,1183,1603,1190,1595,1197,1595,1213,1583,1210,1550,1193,1560,1178,1538,1172,1545,1155,1530,1153,1542,1135,1525,1123,1523,1112,1535,1107,1522,1095,1528,1088,1533,1068,1550,1062,1565,1057,1572,1047,1585,1052,1592,1037,1587,1030];
const regionBorders = [regBretagne,regNormandie,regHautsFrance,regGrandEst,regBourgogne,regCentre,regLoire,regIdf,regAquitaine,regAuvergne,regOccitanie,regPaca,regCorse,valreas,oleron,belleIle];

// water cut out of the land
const bassinArcachon = [632,823,642,805,655,822,637,822];
const etangBerre = [1192,965,1190,972,1200,982,1210,973,1200,970];
const waterShapes = [bassinArcachon,etangBerre];

// small islands and rocks, heavy black strokes
const islets = [[341,322,347,328,358,335,362,340],[356,376,358,378],[418,432,422,435],[463,435,472,438],[502,465,506,470],[611,292,616,293],[674,219,675,220],[618,622,630,627,642,633],[548,557,558,562],[560,522,567,530],[1317,1028,1332,1022],[1283,1027,1298,1034],[1212,1006,1218,1010]];

// arrondissement limits, dotted
const innerLines = [
  [468,333,438,340,424,345,420,320,411,307],[466,368,424,368,438,383],
  [468,330,481,328,488,307,506,300],[527,337,506,360,509,370],[570,330,574,367],
  [602,363,624,357,627,343],[624,357,649,367,652,377,641,393,645,400,616,400,588,407],
  [524,460,505,440,520,420,545,418,575,398],[560,425,525,440],
  [660,300,658,330,666,345],[716,303,718,320,712,342],[752,305,758,325,770,342],
  [820,270,830,295,855,300,870,290],[830,355,860,345,885,335],
  [690,375,720,395,730,410],[770,395,800,390,808,430,790,445],
  [900,55,925,70,950,110,990,120,1015,110],[925,70,930,100,900,100],[890,140,930,160,1000,185],
  [1035,115,1060,140,1090,135],[1065,200,1070,235,1020,245],[1000,240,1000,205],
  [955,215,945,262],[1120,200,1125,230,1160,225],[1100,265,1090,310],[1190,305,1200,345],[1220,285,1222,340],
  [1265,320,1260,350],[1300,280,1330,320],[1370,320,1395,300],[1330,390,1300,385],[1380,385,1345,430],
  [1000,290,1030,340,990,350],[905,290,945,290],[920,345,945,320],
  [1120,390,1080,350],[1200,375,1190,430],[1270,375,1290,345],
  [800,480,830,500,800,530],[880,420,930,430,960,450],[900,490,960,470,990,470],[860,540,900,540,925,560],
  [1040,520,1070,500,1100,540],[1055,590,1100,610],[1150,560,1180,600,1170,540],
  [1180,460,1210,500,1180,520],[1240,540,1260,580],[1300,640,1330,640,1300,680],[1310,725,1330,745,1360,725],
  [1000,660,1040,700,1000,715],[1070,700,1055,730],[1100,640,1060,620],
  [680,680,700,670,720,690],[690,740,690,790,640,810,700,810,730,830],[810,760,850,770,850,800],
  [1050,850,1040,830,1090,835],[970,860,1000,880,960,900],[1000,1030,960,1020,940,1040],[1100,880,1140,890],
  [950,1100,975,1075,975,1060],[710,940,680,890,650,900],[670,990,640,1020],[780,990,830,970,870,990],
  [1270,890,1290,950],[1320,890,1305,920,1340,920],[1270,990,1320,950,1330,990],[1210,975,1180,980],
  [1550,1090,1565,1070,1600,1068,1597,1050],[1550,1172,1580,1158,1588,1155]
];

// compass and scale bar
const compassStar = [74,1133,81,1166,116,1174,81,1182,74,1215,67,1182,33,1174,67,1166];
const compassRays = [[52,1152,70,1165,62,1170],[98,1152,78,1165,86,1170],[52,1197,70,1183,62,1178],[98,1197,78,1183,86,1178]];
const compassCentre = [{x:74,y:1174}];
const scaleBar = [160,1203,160,1195,606,1195,606,1203];
const logoBolt = [1765,43,1753,59,1762,61,1757,77,1772,57,1763,55];

const toPoints = (flat, close) => {
  const pts = [];
  for (let i = 0; i < flat.length; i += 2) pts.push({x: flat[i], y: flat[i + 1]});
  if (close) pts.push({x: flat[0], y: flat[1]});
  return pts;
};
const colorOf = v => legendColors[legendLabels.indexOf(v > 0 ? '+' + v : String(v))];

const shape = (flat, fillColor, lineColor, lineWidth, order) => ({
  data: toPoints(flat, true), showLine: true, pointRadius: 0, tension: 0,
  fill: fillColor ? 'shape' : false, backgroundColor: fillColor || 'transparent',
  borderColor: lineColor, borderWidth: lineWidth, borderJoinStyle: 'round', order
});
const stroke = (flat, lineColor, lineWidth, dash, order) => ({
  data: toPoints(flat, false), showLine: true, pointRadius: 0, tension: 0, fill: false,
  borderColor: lineColor, borderWidth: lineWidth, borderDash: dash, borderCapStyle: 'round', order
});

const datasets = [];
depOutlines.forEach((o, i) => {
  const small = o === valreas || o === oleron || o === belleIle || o === paris;
  datasets.push(shape(o, colorOf(depValues[i]), 'rgba(50,50,60,0.75)', 1, small ? 2 : o === petiteCouronne ? 3 : 5));
});
innerLines.forEach(l => datasets.push(stroke(l, 'rgba(60,60,70,0.42)', 1, [1, 2], 4)));
regionBorders.forEach(r => datasets.push(shape(r, null, '#000', 2.5, r === valreas || r === oleron || r === belleIle ? 1 : 3)));
waterShapes.forEach(w => datasets.push(shape(w, '#fff', '#000', 2.5, 1)));
islets.forEach(l => datasets.push(stroke(l, '#000', 3, [], 1)));
datasets.push(stroke(scaleBar, '#222', 1.5, [], 1));
datasets.push({data: compassCentre, pointRadius: 36, pointBackgroundColor: 'transparent', pointBorderColor: '#c4c4c4', pointBorderWidth: 1, order: 3});
compassRays.forEach(r => datasets.push(shape(r, '#808080', 'transparent', 0, 2)));
datasets.push(shape(compassStar, '#000', 'transparent', 0, 1));
datasets.push(shape(logoBolt, '#e2252b', 'transparent', 0, 1));

new Chart(document.getElementById('map'), {
  type: 'scatter',
  data: {datasets},
  options: {
    responsive: false, animation: false, devicePixelRatio: 1,
    layout: {padding: 0, autoPadding: false},
    plugins: {legend: {display: false}, tooltip: {enabled: false}},
    scales: {
      x: {type: 'linear', display: false, min: 0, max: 1954},
      y: {type: 'linear', display: false, min: 0, max: 1249, reverse: true}
    }
  }
});

const page = document.getElementById('page');
legendLabels.forEach((lab, i) => {
  const y = 242 + i * 40;
  const s = document.createElement('div');
  s.className = 'swatch';
  s.style.top = y + 'px';
  s.style.background = legendColors[i];
  page.appendChild(s);
  const t = document.createElement('div');
  t.className = 'leglab';
  t.style.top = (y + 2) + 'px';
  t.textContent = lab;
  page.appendChild(t);
});
</script>
</body>
</html>
